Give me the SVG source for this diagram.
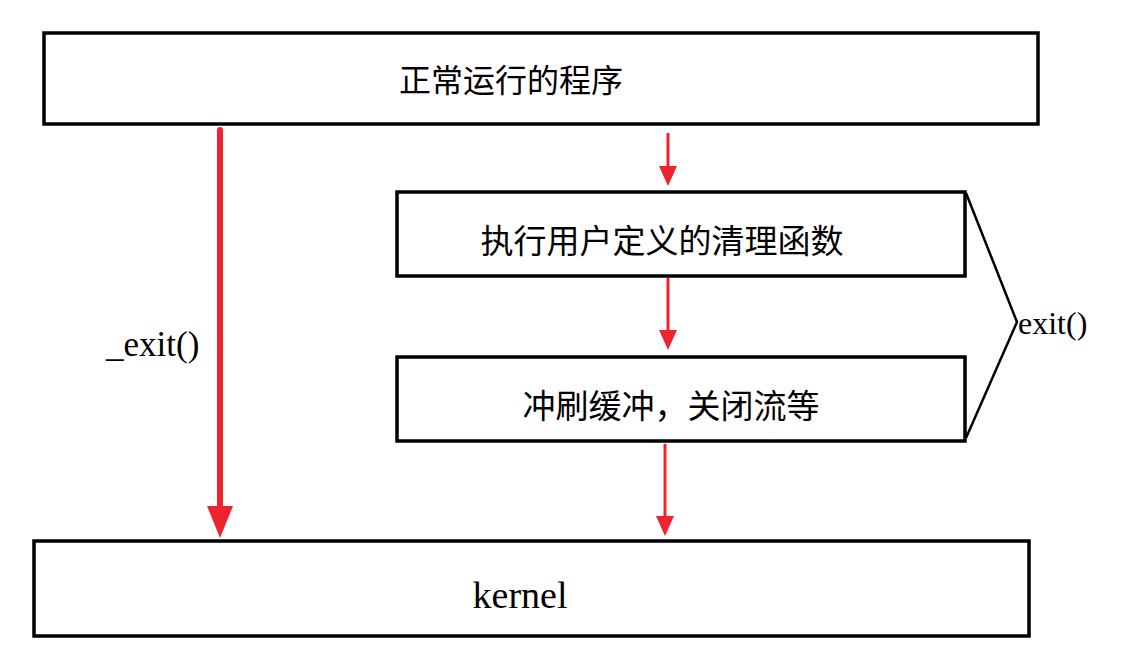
<svg xmlns="http://www.w3.org/2000/svg" width="1134" height="662" viewBox="0 0 1134 662">
<defs>
<style>
.box{fill:#fff;stroke:#000;stroke-width:3.5}
.cn{font-family:"Liberation Serif","Noto Sans CJK SC",serif;fill:#000;text-anchor:middle}
.en{font-family:"Liberation Serif",serif;fill:#000}
.arr{stroke:#ee2330;fill:none}
.head{fill:#ee2330}
</style>
</defs>
<rect width="1134" height="662" fill="#fff"/>
<g id="node-running"><rect class="box" x="44" y="33" width="994" height="91"/><text class="cn" x="511" y="92" font-size="32">正常运行的程序</text></g>
<g id="node-cleanup"><rect class="box" x="397" y="192" width="568" height="84"/><text class="cn" x="662" y="253" font-size="33">执行用户定义的清理函数</text></g>
<g id="node-flush"><rect class="box" x="397" y="357" width="568" height="84"/><text class="cn" x="671" y="418" font-size="33">冲刷缓冲，关闭流等</text></g>
<g id="node-kernel"><rect class="box" x="34" y="541" width="995" height="95"/><text class="en" x="520" y="608" text-anchor="middle" font-size="38">kernel</text></g>
<g id="connectors">
<line class="arr" x1="220" y1="130" x2="220" y2="508" stroke-width="6" stroke-linecap="round"/>
<polygon class="head" points="207,506 233,506 220,538"/>
<line class="arr" x1="668" y1="133" x2="668" y2="168" stroke-width="3"/>
<polygon class="head" points="659,166 677,166 668,186"/>
<line class="arr" x1="668" y1="278" x2="668" y2="332" stroke-width="3"/>
<polygon class="head" points="659,330 677,330 668,350"/>
<line class="arr" x1="665" y1="444" x2="665" y2="518" stroke-width="3"/>
<polygon class="head" points="656,516 674,516 665,536"/>
<polyline points="966,193 1017,322 966,438" fill="none" stroke="#000" stroke-width="2.5"/>
<text class="en" x="1018" y="334" font-size="32">exit()</text>
<text class="en" x="106" y="356" font-size="35">_exit()</text>
</g>
</svg>
